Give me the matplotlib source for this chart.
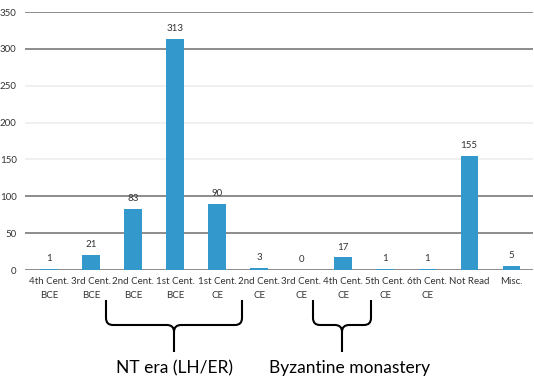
import matplotlib
matplotlib.use('Agg')
import matplotlib.pyplot as plt
from matplotlib.path import Path
from matplotlib.patches import PathPatch

# data
periods = ['4th Cent.\nBCE', '3rd Cent.\nBCE', '2nd Cent.\nBCE', '1st Cent.\nBCE',
           '1st Cent.\nCE', '2nd Cent.\nCE', '3rd Cent.\nCE', '4th Cent.\nCE',
           '5th Cent.\nCE', '6th Cent.\nCE', 'Not Read', 'Misc.']
counts = [1, 21, 83, 313, 90, 3, 0, 17, 1, 1, 155, 5]
y_ticks = [0, 50, 100, 150, 200, 250, 300, 350]
group_labels = ['NT era (LH/ER)', 'Byzantine monastery']

W, H = 534, 382
plt.rcParams['font.family'] = ['Lato', 'DejaVu Sans']
fig = plt.figure(figsize=(W / 100, H / 100), dpi=100)
ax = fig.add_axes([25 / W, 1 - 270 / H, 508 / W, 258 / H])

x = list(range(len(periods)))
bars = ax.bar(x, counts, width=0.41, color='#3399cc', zorder=3)
for b, v in zip(bars, counts):
    ax.text(b.get_x() + b.get_width() / 2, v + 8, str(v), ha='center', va='bottom',
            fontsize=7, color='#333333')

ax.set_xlim(-0.57, 11.52)
ax.set_ylim(0, 350)

# gridlines: the middle ones are barely visible in the original
for t in y_ticks:
    faint = t in (150, 200, 250)
    ax.axhline(t, color='#f0f0f0' if faint else '#8c8c8c', lw=1.4, zorder=1)

ax.set_yticks(y_ticks)
ax.set_yticklabels([str(t) for t in y_ticks], fontsize=7, color='#333333')
ax.set_xticks(x)
ax.set_xticklabels(periods, fontsize=7, color='#333333', linespacing=1.7)
ax.tick_params(length=0, pad=5)
ax.tick_params(axis='y', pad=6)
for s in ax.spines.values():
    s.set_visible(False)


def px(xp, yp):
    return (xp / W, 1 - yp / H)


def bracket(x0, x1, xc, top=300, mid=325, tip=352, r=7):
    verts = [px(x0, top), px(x0, mid - r), px(x0, mid), px(x0 + r, mid),
             px(xc - r, mid), px(xc, mid), px(xc, mid + r), px(xc, tip),
             px(xc, mid + r), px(xc, mid), px(xc + r, mid),
             px(x1 - r, mid), px(x1, mid), px(x1, mid - r), px(x1, top)]
    codes = [Path.MOVETO, Path.LINETO, Path.CURVE3, Path.CURVE3,
             Path.LINETO, Path.CURVE3, Path.CURVE3, Path.LINETO,
             Path.MOVETO, Path.CURVE3, Path.CURVE3,
             Path.LINETO, Path.CURVE3, Path.CURVE3, Path.LINETO]
    patch = PathPatch(Path(verts, codes), transform=fig.transFigure, fill=False,
                      lw=1.5, color='black')
    fig.patches.append(patch)


bracket(106, 242, 174)
bracket(313, 371, 342)

fig.text(175 / W, 1 - 368 / H, group_labels[0], ha='center', va='center', fontsize=12.5)
fig.text(350 / W, 1 - 368 / H, group_labels[1], ha='center', va='center', fontsize=12.5)

fig.savefig('out.png', dpi=100)
